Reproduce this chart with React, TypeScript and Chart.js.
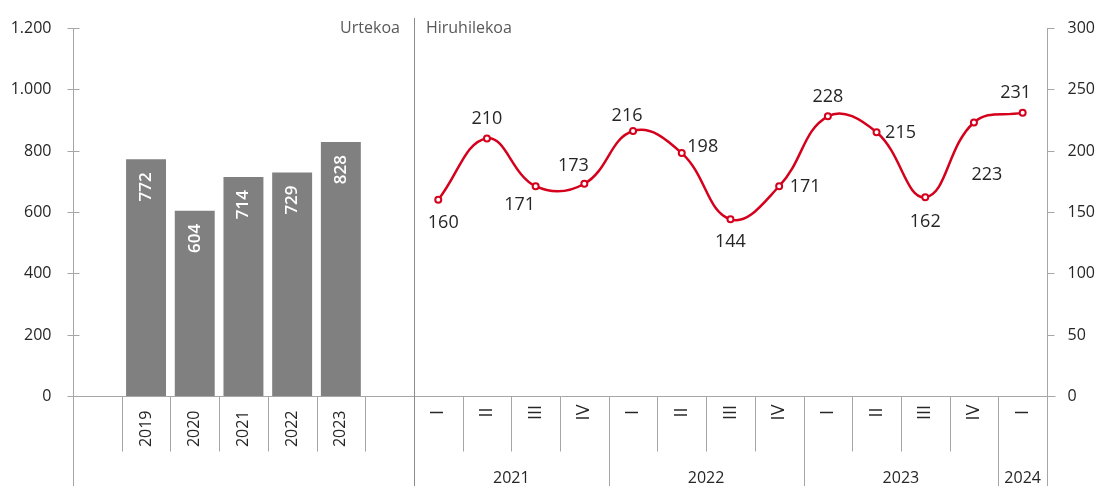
import React, { useEffect, useRef } from 'react';
import { Chart, registerables } from 'chart.js';

Chart.register(...registerables);

// ---- data ----
const CATEGORIES = ['', '2019', '2020', '2021', '2022', '2023', '', 'I', 'II', 'III', 'IV', 'I', 'II', 'III', 'IV', 'I', 'II', 'III', 'IV', 'I'];
const ANNUAL_VALUES = [null, 772, 604, 714, 729, 828, null, null, null, null, null, null, null, null, null, null, null, null, null, null];
const QUARTER_VALUES = [null, null, null, null, null, null, null, 160, 210, 171, 173, 216, 198, 144, 171, 228, 215, 162, 223, 231];
const YEAR_GROUPS = ['2021', '2022', '2023', '2024'];
const YEAR_GROUP_START = [7, 11, 15, 19];
const YEAR_GROUP_END = [10, 14, 18, 19];
const LEFT_TITLE = 'Urtekoa';
const RIGHT_TITLE = 'Hiruhilekoa';
const LEFT_TICKS = [0, 200, 400, 600, 800, 1000, 1200];
const RIGHT_TICKS = [0, 50, 100, 150, 200, 250, 300];
// label placement offsets (dx, dy) relative to each quarterly point
const LABEL_DX = [5, 0, -16, -11, -6, 21, 0, 26, 0, 24, 0, 13, -7];
const LABEL_DY = [23, -20, 19, -18, -15, -6, 23, 1, -19, 1, 25, 52, -20];

const FONT = "'Open Sans', 'Noto Sans', sans-serif";
const AXIS_COLOR = '#a6a6a6';
const TEXT_COLOR = '#262626';
const RED = '#d4001c';

const fmt = (v: number) =>
  v >= 1000 ? `${Math.floor(v / 1000)}.${String(v % 1000).padStart(3, '0')}` : String(v);

const decorPlugin = {
  id: 'decor',
  afterDraw(chart: any) {
    const ctx = chart.ctx as CanvasRenderingContext2D;
    const x = chart.scales.x;
    const yl = chart.scales.yL;
    const yr = chart.scales.yR;
    const ca = chart.chartArea;
    const H = chart.height;
    const half = (x.getPixelForValue(1) - x.getPixelForValue(0)) / 2;
    const bnd = (i: number) => x.getPixelForValue(i) - half;
    const px = (v: number) => Math.round(v) + 0.5;
    const LMAX = LEFT_TICKS[LEFT_TICKS.length - 1];
    const RMAX = RIGHT_TICKS[RIGHT_TICKS.length - 1];

    ctx.save();
    ctx.lineWidth = 1;
    const line = (x1: number, y1: number, x2: number, y2: number, color = AXIS_COLOR) => {
      ctx.strokeStyle = color;
      ctx.beginPath();
      ctx.moveTo(x1, y1);
      ctx.lineTo(x2, y2);
      ctx.stroke();
    };

    const yZero = px(yl.getPixelForValue(0));
    // left axis
    const lx = px(ca.left);
    line(lx, Math.round(yl.getPixelForValue(LMAX)), lx, H);
    ctx.font = `16px ${FONT}`;
    ctx.fillStyle = TEXT_COLOR;
    ctx.textBaseline = 'middle';
    LEFT_TICKS.forEach((v) => {
      const y = px(yl.getPixelForValue(v));
      if (v > 0) line(lx - 6, y, lx + 6, y);
      ctx.textAlign = 'right';
      ctx.fillText(fmt(v), lx - 22, y);
    });
    // right axis
    const rx = px(ca.right);
    line(rx, Math.round(yr.getPixelForValue(RMAX)), rx, H);
    RIGHT_TICKS.forEach((v) => {
      const y = px(yr.getPixelForValue(v));
      if (v > 0) line(rx, y, rx + 7, y);
      ctx.textAlign = 'left';
      ctx.fillText(String(v), rx + 20, y);
    });
    // zero line
    line(lx - 6, yZero, rx + 8, yZero);

    // category separators
    for (let i = 1; i < CATEGORIES.length; i++) {
      const bx = px(bnd(i));
      if (i === 7) {
        line(bx, ca.top - 10, bx, H, '#8c8c8c');
      } else if (YEAR_GROUP_START.includes(i)) {
        line(bx, yZero, bx, H);
      } else {
        line(bx, yZero, bx, yZero + 55);
      }
    }

    // category labels (rotated)
    ctx.fillStyle = TEXT_COLOR;
    ctx.textBaseline = 'middle';
    CATEGORIES.forEach((lab, i) => {
      if (!lab) return;
      const cx = x.getPixelForValue(i);
      ctx.save();
      const isYear = /\d/.test(lab);
      ctx.font = isYear ? `16px ${FONT}` : `18px ${FONT}`;
      ctx.translate(cx, isYear ? yZero + 14 : yZero + 16);
      ctx.rotate(-Math.PI / 2);
      ctx.textAlign = isYear ? 'right' : 'center';
      ctx.fillText(lab, 0, 0);
      ctx.restore();
    });

    // year groups
    ctx.textAlign = 'center';
    ctx.textBaseline = 'middle';
    ctx.font = `16px ${FONT}`;
    YEAR_GROUPS.forEach((g, k) => {
      const a = bnd(YEAR_GROUP_START[k]);
      const b = bnd(YEAR_GROUP_END[k] + 1);
      ctx.fillText(g, (a + b) / 2, yZero + 82);
    });

    // section titles
    ctx.font = `16px ${FONT}`;
    ctx.fillStyle = '#595959';
    const sep = bnd(7);
    ctx.textAlign = 'right';
    ctx.fillText(LEFT_TITLE, sep - 14, ca.top);
    ctx.textAlign = 'left';
    ctx.fillText(RIGHT_TITLE, sep + 12, ca.top);

    // bar value labels
    const barMeta = chart.getDatasetMeta(0);
    ctx.fillStyle = '#ffffff';
    ctx.font = `600 17px ${FONT}`;
    barMeta.data.forEach((el: any, i: number) => {
      const v = ANNUAL_VALUES[i];
      if (v == null) return;
      ctx.save();
      ctx.translate(el.x, el.y + 13);
      ctx.rotate(-Math.PI / 2);
      ctx.textAlign = 'right';
      ctx.textBaseline = 'middle';
      ctx.fillText(String(v), 0, 0);
      ctx.restore();
    });

    // line value labels
    const lineMeta = chart.getDatasetMeta(1);
    ctx.fillStyle = TEXT_COLOR;
    ctx.font = `18px ${FONT}`;
    ctx.textAlign = 'center';
    ctx.textBaseline = 'middle';
    let k = 0;
    lineMeta.data.forEach((el: any, i: number) => {
      const v = QUARTER_VALUES[i];
      if (v == null) return;
      ctx.fillText(String(v), el.x + LABEL_DX[k], el.y + LABEL_DY[k]);
      k++;
    });
    ctx.restore();
  },
};

export default function App() {
  const ref = useRef<HTMLCanvasElement>(null);
  useEffect(() => {
    const chart = new Chart(ref.current as HTMLCanvasElement, {
      type: 'bar',
      data: {
        labels: CATEGORIES,
        datasets: [
          {
            type: 'bar',
            data: ANNUAL_VALUES as any,
            yAxisID: 'yL',
            backgroundColor: '#808080',
            barPercentage: 0.82,
            categoryPercentage: 1,
          },
          {
            type: 'line',
            data: QUARTER_VALUES as any,
            yAxisID: 'yR',
            borderColor: RED,
            borderWidth: 2.5,
            tension: 0.42,
            pointRadius: 3,
            pointBorderWidth: 2,
            pointBackgroundColor: '#ffffff',
            pointBorderColor: RED,
          } as any,
        ],
      },
      options: {
        responsive: false,
        animation: false,
        layout: { padding: { top: 28, left: 0, right: 0, bottom: 0 } },
        plugins: { legend: { display: false }, tooltip: { enabled: false } },
        scales: {
          x: {
            type: 'category',
            offset: true,
            grid: { display: false, drawTicks: false },
            border: { display: false },
            ticks: { display: false },
            afterFit: (s: any) => {
              s.height = 90;
            },
          },
          yL: {
            position: 'left',
            min: 0,
            max: LEFT_TICKS[LEFT_TICKS.length - 1],
            grid: { display: false, drawTicks: false },
            border: { display: false },
            ticks: { display: false, padding: 0 },
            afterFit: (s: any) => {
              s.width = 73;
            },
          },
          yR: {
            position: 'right',
            min: 0,
            max: RIGHT_TICKS[RIGHT_TICKS.length - 1],
            grid: { display: false, drawTicks: false },
            border: { display: false },
            ticks: { display: false, padding: 0 },
            afterFit: (s: any) => {
              s.width = 51;
            },
          },
        },
      },
      plugins: [decorPlugin],
    });
    return () => chart.destroy();
  }, []);
  return (
    <div style={{ position: 'absolute', left: 0, top: 0, width: 1098, height: 486 }}>
      <canvas ref={ref} width={1098} height={486} />
    </div>
  );
}
